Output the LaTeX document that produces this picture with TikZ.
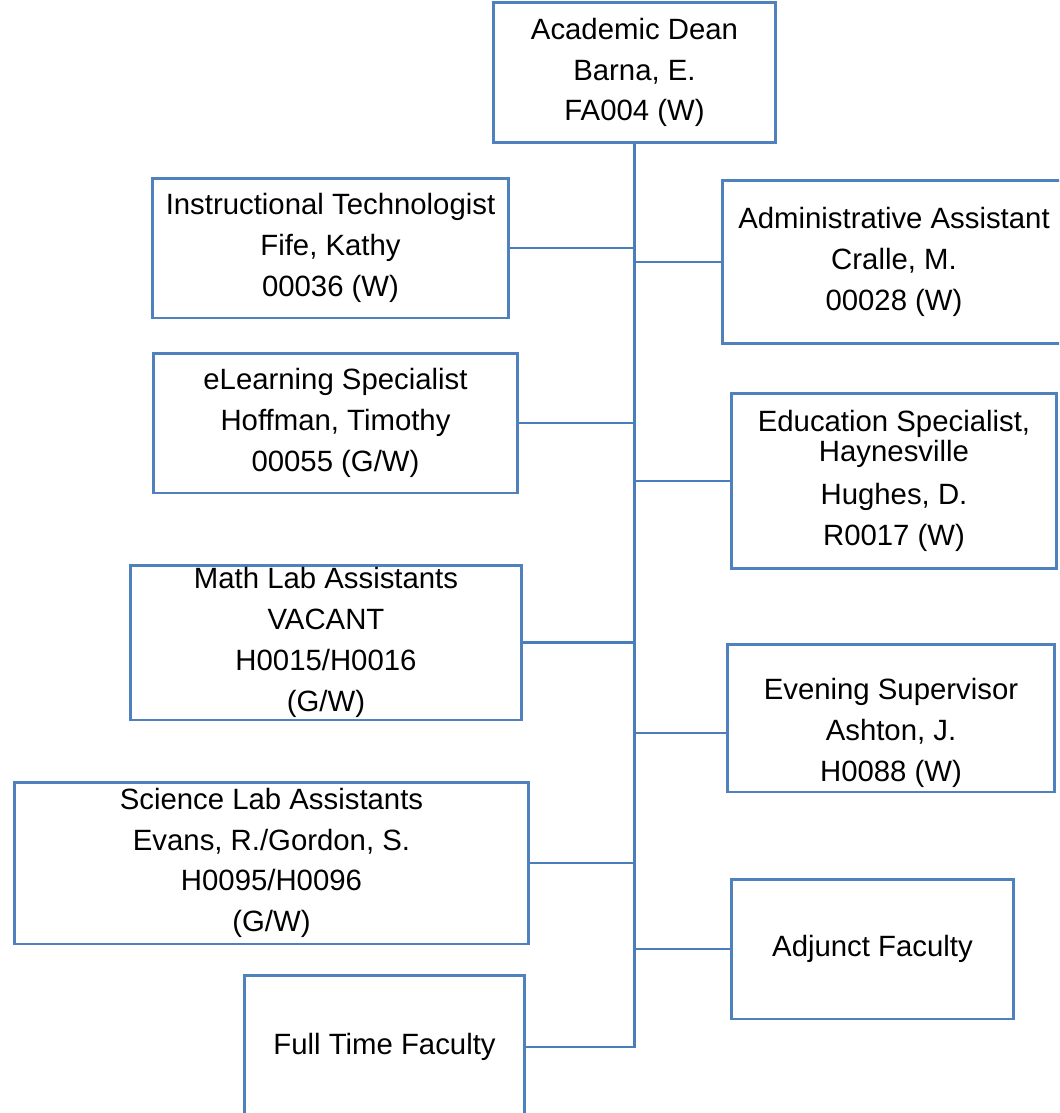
\documentclass[tikz,border=0pt]{standalone}
\usepackage{fontspec}
\setmainfont{Liberation Sans}
\usepackage{tikz}
\definecolor{orgblue}{RGB}{79,129,189}
\definecolor{trunkblue}{RGB}{74,126,187}
\newcommand{\orgfont}{\fontsize{16.7}{23.2}\selectfont}
\tikzstyle{post} = [rectangle, draw=orgblue, line width=1.7pt, inner sep=0pt, align=center, font=\orgfont]
\tikzstyle{link} = [draw=trunkblue, line width=1.5pt]

\begin{document}
\begin{tikzpicture}[x=0.02cm, y=-0.02cm]
\useasboundingbox (0,0) rectangle (1059,1113);
\clip (0,0) rectangle (1059,1113);
\node (dean) [post, minimum width=5.66cm, minimum height=2.82cm] at (634.5,72.5) {Academic Dean\\Barna, E.\\FA004 (W)};
\node (tech) [post, minimum width=7.14cm, minimum height=2.8cm] at (330.5,248) {Instructional Technologist\\Fife, Kathy\\00036 (W)};
\node (admin) [post, minimum width=6.88cm, minimum height=3.28cm] at (894,262) {Administrative Assistant\\Cralle, M.\\00028 (W)};
\node (elearn) [post, minimum width=7.3cm, minimum height=2.8cm] at (335.5,423) {eLearning Specialist\\Hoffman, Timothy\\00055 (G/W)};
\node (edu) [post, minimum width=6.52cm, minimum height=3.52cm] at (894,481) {Education Specialist,\\[-0.22cm]Haynesville\\[0.06cm]Hughes, D.\\R0017 (W)};
\node (math) [post, minimum width=7.84cm, minimum height=3.1cm] at (326,642.5) {Math Lab Assistants\\VACANT\\H0015/H0016\\(G/W)};
\node (even) [post, minimum width=6.56cm, minimum height=2.96cm, label={[name=evetext, font=\orgfont, align=center, yshift=-0.3cm]center:{Evening Supervisor\\Ashton, J.\\H0088 (W)}}] at (891,718) {};
\node (sci) [post, minimum width=10.3cm, minimum height=3.24cm] at (271.5,863) {Science Lab Assistants\\Evans, R./Gordon, S.\\H0095/H0096\\(G/W)};
\node (adj) [post, minimum width=5.66cm, minimum height=2.8cm] at (872.5,949) {Adjunct Faculty};
\node (full) [post, minimum width=5.62cm, minimum height=2.88cm] at (384.5,1047) {Full Time Faculty};

\draw [link] (dean.south) -- (dean.south |- full.east) -- (full.east);
\draw [link] (tech.east) -- (tech.east -| dean.south);
\draw [link] (admin.west) -- (admin.west -| dean.south);
\draw [link] (elearn.east) -- (elearn.east -| dean.south);
\draw [link] (edu.west) -- (edu.west -| dean.south);
\draw [link] (math.east) -- (math.east -| dean.south);
\draw [link] (evetext -| even.west) -- (evetext -| dean.south);
\draw [link] (sci.east) -- (sci.east -| dean.south);
\draw [link] (adj.west) -- (adj.west -| dean.south);
\end{tikzpicture}
\end{document}
